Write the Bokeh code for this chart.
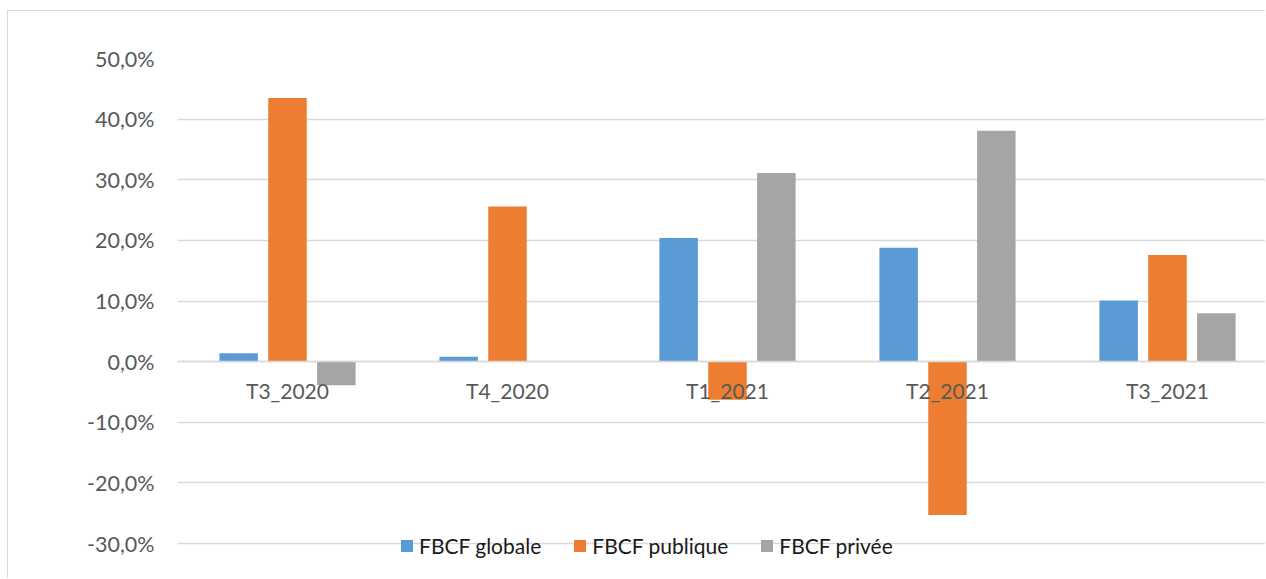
from bokeh.plotting import figure
from bokeh.models import Range1d, FixedTicker, Legend, LegendItem, ColumnDataSource
from bokeh.embed import file_html
from bokeh.resources import INLINE

categories = ["T3_2020", "T4_2020", "T1_2021", "T2_2021", "T3_2021"]
fbcf_globale = [1.4, 0.8, 20.4, 18.8, 10.1]
fbcf_publique = [43.5, 25.6, -6.3, -25.3, 17.6]
fbcf_privee = [-3.9, 0.0, 31.1, 38.1, 8.0]
series_names = ["FBCF globale", "FBCF publique", "FBCF privée"]
series_colors = ["#5B9BD5", "#ED7D31", "#A5A5A5"]
y_ticks = [-30, -20, -10, 0, 10, 20, 30, 40, 50]
y_tick_labels = ["-30,0%", "-20,0%", "-10,0%", "0,0%", "10,0%", "20,0%", "30,0%", "40,0%", "50,0%"]

W, H = 1258, 568
LEFT, TOP, BOTTOM = 169, 47, 0
PX_PER_CAT = 220.0
PX_PER_PCT = 6.0625
frame_h = H - TOP - BOTTOM

p = figure(width=W, height=H, output_backend="svg", toolbar_location=None,
           x_range=Range1d(-0.5, -0.5 + (W - LEFT) / PX_PER_CAT),
           y_range=Range1d(50 - frame_h / PX_PER_PCT, 50),
           min_border_left=LEFT, min_border_right=0,
           min_border_top=TOP, min_border_bottom=BOTTOM,
           background_fill_color="white", border_fill_color="white")
p.styles = {"margin-left": "7px", "margin-top": "10px",
            "border-left": "1px solid #d9d9d9", "border-top": "1px solid #d9d9d9"}
p.outline_line_color = None

idx = list(range(len(categories)))
offsets = [-0.222, 0.0, 0.222]
bar_w = 0.175
renderers = []
for vals, off, col in zip([fbcf_globale, fbcf_publique, fbcf_privee], offsets, series_colors):
    src = ColumnDataSource(dict(x=[i + off for i in idx], top=vals, cat=categories))
    r = p.vbar(x="x", top="top", bottom=0, width=bar_w, source=src,
               fill_color=col, line_color=None)
    renderers.append(r)

# axes
xa = p.xaxis[0]
xa.ticker = FixedTicker(ticks=idx)
xa.major_label_overrides = {i: c for i, c in zip(idx, categories)}
xa.fixed_location = 0
xa.axis_line_color = "#d9d9d9"
xa.axis_line_width = 1.5
xa.major_tick_line_color = None
xa.minor_tick_line_color = None
xa.major_label_standoff = 10
xa.major_label_text_font = "Lato"
xa.major_label_text_font_size = "21px"
xa.major_label_text_color = "#595959"

ya = p.yaxis[0]
ya.ticker = FixedTicker(ticks=y_ticks)
ya.major_label_overrides = {t: l for t, l in zip(y_ticks, y_tick_labels)}
ya.axis_line_color = None
ya.major_tick_line_color = None
ya.minor_tick_line_color = None
ya.major_label_standoff = 17
ya.major_label_text_font = "Lato"
ya.major_label_text_font_size = "21.5px"
ya.major_label_text_color = "#595959"

p.xgrid.visible = False
p.ygrid.ticker = FixedTicker(ticks=y_ticks)
p.ygrid.grid_line_color = "#d9d9d9"
p.ygrid.grid_line_width = 1.5

legend = Legend(items=[LegendItem(label=n, renderers=[r]) for n, r in zip(series_names, renderers)],
                orientation="horizontal", location=(222, 21),
                background_fill_alpha=0, border_line_color=None,
                padding=0, margin=0, spacing=31,
                glyph_width=15, glyph_height=15, label_standoff=5,
                label_text_font="Lato", label_text_font_size="21px",
                label_text_color="#1a1a1a")
p.add_layout(legend)

open("out.html", "w").write(file_html(p, INLINE))
